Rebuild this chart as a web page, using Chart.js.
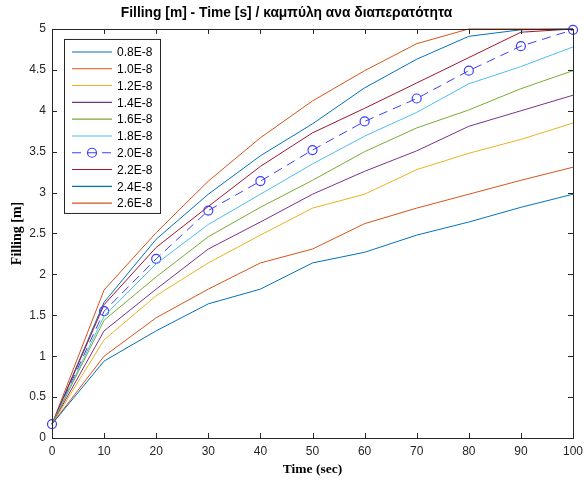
<!DOCTYPE html>
<html>
<head>
<meta charset="utf-8">
<script src="https://cdn.jsdelivr.net/npm/chart.js@4"></script>
<style>
  html, body { margin:0; padding:0; background:#fff; }
  #wrap { width:584px; height:482px; }
</style>
</head>
<body>
<div id="wrap"><canvas id="chart" width="584" height="482"></canvas></div>
<script>
// dados
const times  = [0, 10, 20, 30, 40, 50, 60, 70, 80, 90, 100];
const names  = ['0.8E-8','1.0E-8','1.2E-8','1.4E-8','1.6E-8','1.8E-8','2.0E-8','2.2E-8','2.4E-8','2.6E-8'];
const s08 = [0.17, 0.94, 1.31, 1.64, 1.82, 2.14, 2.27, 2.48, 2.64, 2.82, 2.98];
const s10 = [0.17, 1.00, 1.47, 1.82, 2.14, 2.31, 2.62, 2.81, 2.98, 3.15, 3.31];
const s12 = [0.17, 1.20, 1.74, 2.14, 2.48, 2.81, 2.98, 3.28, 3.48, 3.65, 3.85];
const s14 = [0.17, 1.31, 1.82, 2.31, 2.64, 2.98, 3.26, 3.51, 3.81, 4.00, 4.19];
const s16 = [0.17, 1.44, 1.97, 2.46, 2.82, 3.15, 3.50, 3.79, 4.01, 4.27, 4.49];
const s18 = [0.17, 1.49, 2.13, 2.61, 2.98, 3.35, 3.69, 3.98, 4.33, 4.54, 4.78];
const s20 = [0.17, 1.55, 2.19, 2.78, 3.14, 3.52, 3.87, 4.15, 4.49, 4.79, 4.99];
const s22 = [0.17, 1.63, 2.33, 2.83, 3.32, 3.73, 4.03, 4.34, 4.65, 4.96, 5.00];
const s24 = [0.17, 1.66, 2.43, 2.98, 3.45, 3.84, 4.28, 4.63, 4.91, 4.99, 5.00];
const s26 = [0.17, 1.81, 2.51, 3.14, 3.67, 4.12, 4.49, 4.82, 5.00, 5.00, 5.00];
const series = [s08, s10, s12, s14, s16, s18, s20, s22, s24, s26];
const colors = ['#0072BD','#D95319','#EDB120','#7E2F8E','#77AC30','#4DBEEE','#3c3cff','#A2142F','#0072BD','#D95319'];

const AX = '#262626';
const SANS  = '"Liberation Sans", Arial, sans-serif';
const SERIF = '"Liberation Serif", "Times New Roman", serif';

const datasets = series.map((arr, i) => {
  const dashed = names[i] === '2.0E-8';
  return {
    label: names[i],
    data: times.map((t, j) => ({ x: t, y: arr[j] })),
    borderColor: colors[i],
    backgroundColor: 'transparent',
    borderWidth: 1,
    borderDash: dashed ? [9, 6] : [],
    pointRadius: dashed ? 4.5 : 0,
    pointBorderWidth: 1.2,
    pointBorderColor: colors[i],
    pointBackgroundColor: 'transparent',
    tension: 0,
    clip: false
  };
});

// moldura estilo MATLAB com ticks para dentro
const frame = {
  id: 'frame',
  afterDatasetsDraw(chart){
    const { ctx, chartArea: a, scales: { x, y } } = chart;
    ctx.save();
    ctx.strokeStyle = AX; ctx.lineWidth = 1;
    ctx.strokeRect(Math.round(a.left)+0.5, Math.round(a.top)+0.5, Math.round(a.right-a.left), Math.round(a.bottom-a.top));
    const L = 5;
    ctx.beginPath();
    x.ticks.forEach(t => {
      const px = Math.round(x.getPixelForValue(t.value)) + 0.5;
      ctx.moveTo(px, a.bottom); ctx.lineTo(px, a.bottom - L);
      ctx.moveTo(px, a.top); ctx.lineTo(px, a.top + L);
    });
    y.ticks.forEach(t => {
      const py = Math.round(y.getPixelForValue(t.value)) + 0.5;
      ctx.moveTo(a.left, py); ctx.lineTo(a.left + L, py);
      ctx.moveTo(a.right, py); ctx.lineTo(a.right - L, py);
    });
    ctx.stroke();
    ctx.restore();
  }
};

// legenda dentro da área do gráfico
const innerLegend = {
  id: 'innerLegend',
  afterDraw(chart){
    const { ctx, chartArea: a } = chart;
    const bx = a.left + 12, by = a.top + 10, bw = 96, bh = 174, row = 16.8;
    ctx.save();
    ctx.fillStyle = '#fff';
    ctx.fillRect(bx, by, bw, bh);
    ctx.strokeStyle = AX; ctx.lineWidth = 1;
    ctx.strokeRect(bx + 0.5, by + 0.5, bw, bh);
    ctx.font = '12px ' + SANS;
    ctx.textBaseline = 'middle';
    chart.data.datasets.forEach((ds, i) => {
      const cy = by + 13 + i * row;
      ctx.strokeStyle = ds.borderColor;
      ctx.lineWidth = 1.1;
      ctx.setLineDash(ds.borderDash);
      ctx.beginPath(); ctx.moveTo(bx + 8, cy); ctx.lineTo(bx + 48, cy); ctx.stroke();
      ctx.setLineDash([]);
      if (ds.pointRadius > 0){
        ctx.lineWidth = 1.2;
        ctx.beginPath(); ctx.arc(bx + 28, cy, ds.pointRadius, 0, Math.PI*2); ctx.stroke();
      }
      ctx.fillStyle = '#000';
      ctx.fillText(ds.label, bx + 53, cy + 1);
    });
    ctx.restore();
  }
};

new Chart(document.getElementById('chart'), {
  type: 'line',
  data: { datasets },
  options: {
    responsive: false,
    animation: false,
    layout: { padding: { left: 0, right: 11, top: 0, bottom: 0 } },
    plugins: {
      legend: { display: false },
      tooltip: { enabled: false },
      title: {
        display: true,
        text: 'Filling [m] - Time [s] / καμπύλη ανα διαπερατότητα',
        color: '#000',
        font: { family: SANS, size: 13.8, weight: 'bold', lineHeight: 1.2 },
        padding: { top: 5, bottom: 7.4 }
      }
    },
    scales: {
      x: {
        type: 'linear', min: 0, max: 100,
        afterFit: s => { s.height = 44; s.paddingRight = 0; s.paddingLeft = 0; },
        ticks: { stepSize: 10, color: AX, padding: 6,
                 font: { family: SANS, size: 12 } },
        grid: { display: false, drawTicks: false },
        border: { display: false },
        title: { display: true, text: 'Time (sec)', color: '#000', padding: { top: 1 },
                 font: { family: SERIF, size: 13.5, weight: 'bold' } }
      },
      y: {
        type: 'linear', min: 0, max: 5,
        afterFit: s => { s.width = 52; },
        ticks: { stepSize: 0.5, color: AX, padding: 6,
                 callback: v => String(+Number(v).toFixed(1)),
                 font: { family: SANS, size: 12 } },
        grid: { display: false, drawTicks: false },
        border: { display: false },
        title: { display: true, text: 'Filling [m]', color: '#000', padding: { top: 9, bottom: 2 },
                 font: { family: SERIF, size: 14, weight: 'bold' } }
      }
    }
  },
  plugins: [frame, innerLegend]
});
</script>
</body>
</html>
